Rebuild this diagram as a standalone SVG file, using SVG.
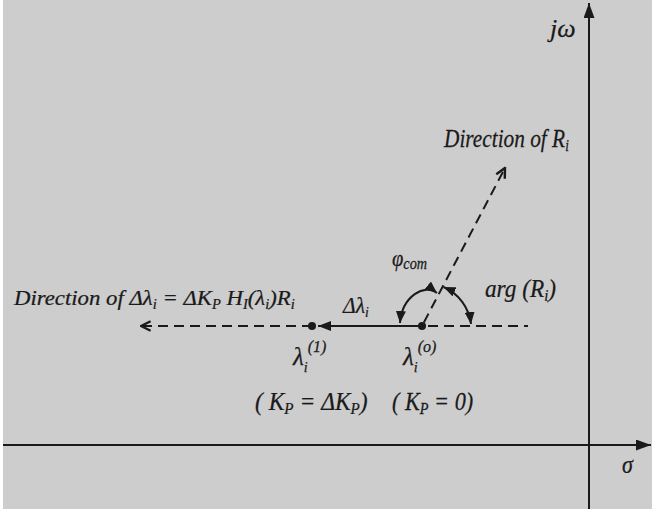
<svg xmlns="http://www.w3.org/2000/svg" width="652" height="509" viewBox="0 0 652 509">
<style>
text{font-family:"Liberation Serif","Times New Roman",serif;font-style:italic;fill:#1a1a1a;stroke:#1a1a1a;stroke-width:0.25}
.ax{stroke:#1a1a1a;stroke-width:2;fill:none}
.ln{stroke:#1a1a1a;stroke-width:2;fill:none}
.dash{stroke:#1a1a1a;stroke-width:2;fill:none;stroke-dasharray:10 6}
</style>
<defs>
<marker id="fill" viewBox="0 0 10 10" refX="10" refY="5" markerWidth="13" markerHeight="10" markerUnits="userSpaceOnUse" orient="auto" preserveAspectRatio="none">
<path d="M0,0 L10,5 L0,10 Z" fill="#1a1a1a"/>
</marker>
<marker id="axa" viewBox="0 0 10 10" refX="10" refY="5" markerWidth="15" markerHeight="11" markerUnits="userSpaceOnUse" orient="auto" preserveAspectRatio="none">
<path d="M0,0 L10,5 L0,10 Z" fill="#1a1a1a"/>
</marker>
<marker id="open" viewBox="0 0 10 10" refX="9" refY="5" markerWidth="12" markerHeight="12" markerUnits="userSpaceOnUse" orient="auto">
<path d="M1,1 L9,5 L1,9" fill="none" stroke="#1a1a1a" stroke-width="2" stroke-dasharray="none"/>
</marker>
<marker id="arc" viewBox="0 0 10 10" refX="10" refY="5" markerWidth="12" markerHeight="10" markerUnits="userSpaceOnUse" orient="auto-start-reverse" preserveAspectRatio="none">
<path d="M0,0 L10,5 L0,10 Z" fill="#1a1a1a"/>
</marker>
</defs>
<rect x="0" y="0" width="652" height="509" fill="#ffffff"/>
<rect x="3" y="0" width="649" height="509" fill="#cdcdcd"/>
<g id="axes">
<line class="ax" x1="589" y1="509" x2="589" y2="3" marker-end="url(#axa)"/>
<line class="ax" x1="3" y1="445" x2="651" y2="445" marker-end="url(#axa)"/>
</g>
<g id="connectors">
<line class="dash" x1="312" y1="326" x2="141" y2="326" marker-end="url(#open)"/>
<line class="dash" x1="428" y1="326" x2="528" y2="326"/>
<line class="ln" x1="422" y1="326" x2="318" y2="326" marker-end="url(#fill)"/>
<line class="dash" x1="422" y1="326" x2="505" y2="168" stroke-dashoffset="-4" marker-end="url(#open)"/>
<path class="ln" d="M443.5,287 A46,46 0 0 1 471,324" marker-start="url(#arc)" marker-end="url(#arc)"/>
<path class="ln" d="M400,323 C402,296 425,283 437,293" marker-start="url(#arc)" marker-end="url(#arc)"/>
</g>
<g id="points">
<circle cx="312" cy="326" r="4" fill="#1a1a1a"/>
<circle cx="422" cy="326" r="4" fill="#1a1a1a"/>
</g>
<g id="labels">
<text transform="translate(14 305) scale(1.035 1)" font-size="22">Direction of Δλ<tspan font-size="14" dy="4">i</tspan><tspan dy="-4"> = ΔK</tspan><tspan font-size="14" dy="4">P</tspan><tspan dy="-4"> H</tspan><tspan font-size="14" dy="4">I</tspan><tspan dy="-4">(λ</tspan><tspan font-size="14" dy="4">i</tspan><tspan dy="-4">)R</tspan><tspan font-size="14" dy="4">i</tspan></text>
<text transform="translate(444 147) scale(0.82 1)" font-size="26">Direction of R<tspan font-size="16" dy="4">i</tspan></text>
<text x="550" y="37" font-size="26">jω</text>
<text transform="translate(622 473) scale(0.85 1)" font-size="26">σ</text>
<text transform="translate(392 266) scale(0.89 1)" font-size="23">φ<tspan font-size="16" dy="3">com</tspan></text>
<text transform="translate(485 297) scale(0.93 1)" font-size="25">arg (R<tspan font-size="16" dy="4">i</tspan><tspan dy="-4">)</tspan></text>
<text transform="translate(343 313) scale(0.9 1)" font-size="24">Δλ<tspan font-size="15" dy="4">i</tspan></text>
<text x="293" y="365" font-size="25">λ<tspan font-size="14" dy="7">i</tspan><tspan font-size="16" dy="-20">(1)</tspan></text>
<text x="403" y="365" font-size="25">λ<tspan font-size="14" dy="7">i</tspan><tspan font-size="16" dy="-20">(o)</tspan></text>
<text transform="translate(255 410) scale(0.94 1)" font-size="25">( K<tspan font-size="16" dy="4">P</tspan><tspan dy="-4"> = ΔK</tspan><tspan font-size="16" dy="4">P</tspan><tspan dy="-4">)</tspan></text>
<text transform="translate(392 410) scale(0.89 1)" font-size="25">( K<tspan font-size="16" dy="4">P</tspan><tspan dy="-4"> = 0)</tspan></text>
</g>
</svg>
